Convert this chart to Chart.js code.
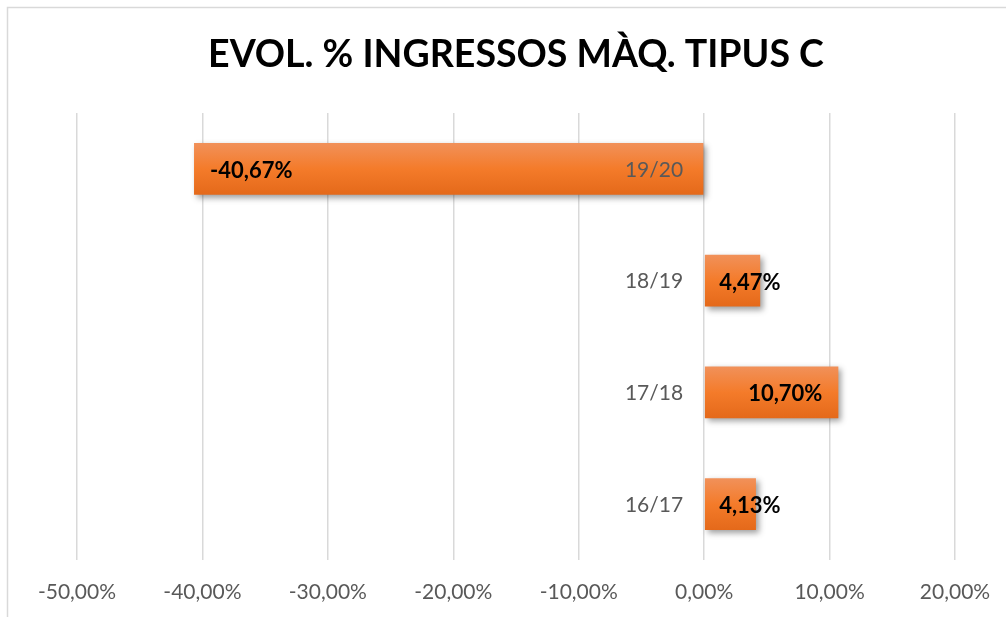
<!DOCTYPE html>
<html>
<head>
<meta charset="utf-8">
<script src="https://cdn.jsdelivr.net/npm/chart.js@4.4.1/dist/chart.umd.min.js"></script>
<style>
  html, body { margin: 0; padding: 0; background: #ffffff; }
  #wrap { width: 1006px; height: 617px; position: relative; }
</style>
</head>
<body>
<div id="wrap"><canvas id="c" width="1006" height="617"></canvas></div>
<script>
const categories = ['19/20', '18/19', '17/18', '16/17'];
const values = [-40.67, 4.47, 10.70, 4.13];
const xTicks = [-50, -40, -30, -20, -10, 0, 10, 20];
const titleText = 'EVOL. % INGRESSOS MÀQ. TIPUS C';

const FONT = 'Lato, "Open Sans", sans-serif';
const fmt = v => v.toFixed(2).replace('.', ',') + '%';

const framePlugin = {
  id: 'frame',
  beforeDraw(chart) {
    const ctx = chart.ctx;
    ctx.save();
    ctx.fillStyle = '#ffffff';
    ctx.fillRect(0, 0, chart.width, chart.height);
    ctx.strokeStyle = '#D9D9D9';
    ctx.lineWidth = 1.5;
    ctx.strokeRect(7.5, 7.5, chart.width + 20, chart.height + 20);
    ctx.restore();
  }
};

const barStylePlugin = {
  id: 'barStyle',
  beforeDatasetsDraw(chart) {
    const ctx = chart.ctx;
    const meta = chart.getDatasetMeta(0);
    meta.data.forEach(el => {
      const top = el.y - el.height / 2, bot = el.y + el.height / 2;
      const g = ctx.createLinearGradient(0, top, 0, bot);
      g.addColorStop(0, '#F1915A');
      g.addColorStop(0.5, '#F47B2A');
      g.addColorStop(1, '#E4691A');
      el.options = Object.assign({}, el.options, { backgroundColor: g });
    });
    ctx.save();
    ctx.shadowColor = 'rgba(0,0,0,0.38)';
    ctx.shadowBlur = 6;
    ctx.shadowOffsetX = 3;
    ctx.shadowOffsetY = 3;
  },
  afterDatasetsDraw(chart) {
    const ctx = chart.ctx;
    ctx.restore();
    const xs = chart.scales.x, ys = chart.scales.y;
    const zero = xs.getPixelForValue(0);
    ctx.save();
    ctx.font = '21px ' + FONT;
    ctx.fillStyle = '#595959';
    ctx.textAlign = 'right';
    ctx.textBaseline = 'middle';
    categories.forEach((c, i) => {
      ctx.fillText(c, zero - 21, ys.getPixelForValue(i) + 1);
    });
    ctx.font = 'bold 22px ' + FONT;
    ctx.fillStyle = '#000000';
    const meta = chart.getDatasetMeta(0);
    meta.data.forEach((el, i) => {
      const v = values[i];
      const t = fmt(v);
      const w = ctx.measureText(t).width;
      const end = xs.getPixelForValue(v);
      const left = v < 0 ? end + 16 : Math.max(end - 16 - w, zero + 15);
      ctx.textAlign = 'left';
      ctx.fillText(t, left, el.y + 2);
    });
    ctx.restore();
  }
};

new Chart(document.getElementById('c'), {
  type: 'bar',
  data: {
    labels: categories,
    datasets: [{
      data: values,
      backgroundColor: c => '#F47B2A',
      borderWidth: 0,
      barPercentage: 0.465,
      categoryPercentage: 1
    }]
  },
  options: {
    indexAxis: 'y',
    responsive: false,
    animation: false,
    devicePixelRatio: 1,
    layout: { padding: { left: 77, right: 51, top: 0, bottom: 0 } },
    plugins: {
      legend: { display: false },
      tooltip: { enabled: false },
      title: {
        display: true,
        text: titleText,
        color: '#000000',
        font: { family: FONT, size: 37.5, weight: 'bold', lineHeight: 1.2 },
        padding: { top: 55 - 22.5, bottom: 113 - 55 - 22.5 }
      }
    },
    scales: {
      x: {
        min: -50,
        max: 20,
        afterBuildTicks: s => { s.ticks = xTicks.map(v => ({ value: v })); },
        afterFit: s => { s.height = 57; s.paddingLeft = 0; s.paddingRight = 0; },
        grid: { color: '#D9D9D9', lineWidth: 1.5, drawTicks: false },
        border: { display: false },
        ticks: {
          color: '#595959',
          font: { family: FONT, size: 21 },
          padding: 20,
          callback: v => fmt(v)
        }
      },
      y: {
        display: false
      }
    }
  },
  plugins: [framePlugin, barStylePlugin]
});
</script>
</body>
</html>
